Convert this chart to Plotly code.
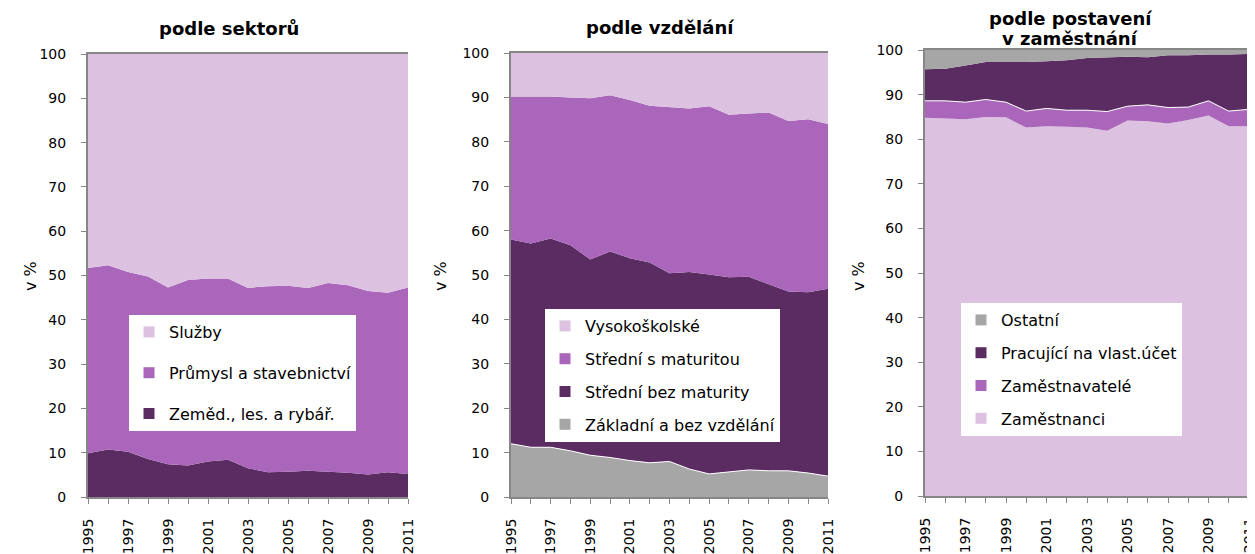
import plotly.graph_objects as go

years = list(range(1995, 2012))

# panel 1 - podle sektorů (shares in %)
zemed = [9.9, 10.7, 10.2, 8.6, 7.4, 7.1, 8.0, 8.4, 6.5, 5.6, 5.7, 5.9, 5.7, 5.5, 5.1, 5.6, 5.2]
prumysl = [41.8, 41.6, 40.6, 41.2, 39.9, 41.9, 41.3, 40.9, 40.7, 42.0, 42.0, 41.3, 42.6, 42.3, 41.4, 40.5, 42.1]
sluzby = [48.3, 47.7, 49.2, 50.2, 52.7, 51.0, 50.7, 50.7, 52.8, 52.4, 52.3, 52.8, 51.7, 52.2, 53.5, 53.9, 52.7]

# panel 2 - podle vzdělání
zakladni = [12.0, 11.2, 11.2, 10.4, 9.4, 8.9, 8.2, 7.7, 8.0, 6.3, 5.2, 5.6, 6.1, 5.9, 5.9, 5.4, 4.7]
bez_mat = [46.0, 45.9, 47.0, 46.3, 44.1, 46.4, 45.6, 45.1, 42.4, 44.4, 44.9, 43.9, 43.5, 42.1, 40.4, 40.7, 42.2]
s_mat = [32.2, 33.1, 32.0, 33.3, 36.3, 35.2, 35.6, 35.3, 37.4, 36.8, 37.9, 36.6, 36.8, 38.6, 38.4, 39.0, 37.1]
vysokoskolske = [9.8, 9.8, 9.8, 10.0, 10.2, 9.5, 10.6, 11.9, 12.2, 12.5, 12.0, 13.9, 13.6, 13.4, 15.3, 14.9, 16.0]

# panel 3 - podle postavení v zaměstnání
zamestnanci = [84.8, 84.7, 84.5, 85.0, 84.9, 82.6, 82.9, 82.8, 82.6, 81.9, 84.2, 84.0, 83.5, 84.3, 85.3, 82.9, 82.9]
zamestnavatele = [3.8, 3.9, 3.8, 3.9, 3.4, 3.7, 4.0, 3.7, 3.9, 4.3, 3.2, 3.7, 3.6, 2.9, 3.3, 3.4, 3.8]
vlast_ucet = [7.1, 7.2, 8.2, 8.4, 9.0, 11.0, 10.6, 11.2, 11.7, 12.1, 11.1, 10.7, 11.7, 11.6, 10.4, 12.7, 12.4]
ostatni = [4.3, 4.2, 3.5, 2.7, 2.7, 2.7, 2.5, 2.3, 1.8, 1.7, 1.5, 1.6, 1.2, 1.2, 1.0, 1.0, 0.9]

LIGHT = "#dcc1e1"
MID = "#aa66ba"
DARK = "#5b2c61"
GRAY = "#a6a6a6"
FONT = "DejaVu Sans, Arial, sans-serif"

panels = [
    ("x", "y", "legend", [("Zeměd., les. a rybář.", zemed, DARK, None),
                          ("Průmysl a stavebnictví", prumysl, MID, None),
                          ("Služby", sluzby, LIGHT, None)]),
    ("x2", "y2", "legend2", [("Základní a bez vzdělání", zakladni, GRAY, "white"),
                             ("Střední bez maturity", bez_mat, DARK, None),
                             ("Střední s maturitou", s_mat, MID, None),
                             ("Vysokoškolské", vysokoskolske, LIGHT, None)]),
    ("x3", "y3", "legend3", [("Zaměstnanci", zamestnanci, LIGHT, None),
                             ("Zaměstnavatelé", zamestnavatele, MID, "white"),
                             ("Pracující na vlast.účet", vlast_ucet, DARK, None),
                             ("Ostatní", ostatni, GRAY, None)]),
]

fig = go.Figure()
for i, (xa, ya, leg, series) in enumerate(panels):
    for k, (name, vals, col, lcol) in enumerate(series):
        fig.add_trace(go.Scatter(
            x=years, y=vals, name=name, xaxis=xa, yaxis=ya,
            stackgroup="s%d" % i, mode="lines",
            line=dict(width=1 if lcol else 0, color=lcol or col),
            fillcolor=col, showlegend=False, hoverinfo="skip",
        ))
        # legend entry with a square swatch, top series listed first
        fig.add_trace(go.Scatter(
            x=[None], y=[None], name=name, xaxis=xa, yaxis=ya, mode="markers",
            marker=dict(symbol="square", size=11, color=col),
            legend=leg, legendgroup=name, legendrank=100 - k,
        ))

# page body has an 8px margin, so work in screen pixels and shift
OFF = 8
W, H = 1255 - OFF, 554 - OFF
def px_x(sx):
    return (sx - OFF) / W
def px_y(sy):
    return 1 - (sy - OFF) / H

tickvals = years
ticktext = [str(y) if y % 2 == 1 else "" for y in years]
axis_common = dict(showgrid=False, zeroline=False, showline=True, linecolor="#868686",
                   linewidth=2, ticks="outside", ticklen=5, tickcolor="#868686",
                   tickfont=dict(family=FONT, size=14, color="black"), automargin=False,
                   ticklabeloverflow="allow")

boxes = [(88, 408, 54, 497), (511, 828, 53, 497), (925, 1249, 50, 496)]
layout = {}
for i, (x0, x1, y0, y1) in enumerate(boxes):
    sfx = "" if i == 0 else str(i + 1)
    layout["xaxis" + sfx] = dict(axis_common, domain=[px_x(x0), px_x(x1)], range=[1995, 2011],
                                 tickvals=tickvals, ticktext=ticktext, tickangle=-90,
                                 ticklabelstandoff=9, mirror=True, anchor="y" + sfx)
    layout["yaxis" + sfx] = dict(axis_common, domain=[px_y(y1), px_y(y0)], range=[0, 100],
                                 dtick=10, ticklabelstandoff=12, anchor="x" + sfx)

legend_common = dict(bgcolor="white", font=dict(family=FONT, size=16, color="black"),
                     traceorder="grouped", xanchor="left", yanchor="top")
layout["legend"] = dict(legend_common, x=px_x(129), y=px_y(315), tracegroupgap=17)
layout["legend2"] = dict(legend_common, x=px_x(545), y=px_y(309), tracegroupgap=9)
layout["legend3"] = dict(legend_common, x=px_x(961), y=px_y(303), tracegroupgap=9)

fig.update_layout(**layout)

titles = [("<b>podle sektorů</b>", 229, 29), ("<b>podle vzdělání</b>", 660, 28),
          ("<b>podle postavení</b>", 1070, 18), ("<b>v zaměstnání</b>", 1070, 38)]
for txt, sx, sy in titles:
    fig.add_annotation(text=txt, x=px_x(sx), y=px_y(sy), xref="paper", yref="paper",
                       showarrow=False, font=dict(family=FONT, size=18, color="black"),
                       xanchor="center", yanchor="middle")
for sx in [30, 440, 858]:
    fig.add_annotation(text="v %", x=px_x(sx), y=px_y(276), xref="paper", yref="paper",
                       showarrow=False, textangle=-90, font=dict(family=FONT, size=16, color="black"),
                       xanchor="center", yanchor="middle")

fig.update_layout(width=W, height=H, margin=dict(l=0, r=0, t=0, b=0, autoexpand=False),
                  paper_bgcolor="white", plot_bgcolor="white", showlegend=True)

fig.write_html("out.html")
